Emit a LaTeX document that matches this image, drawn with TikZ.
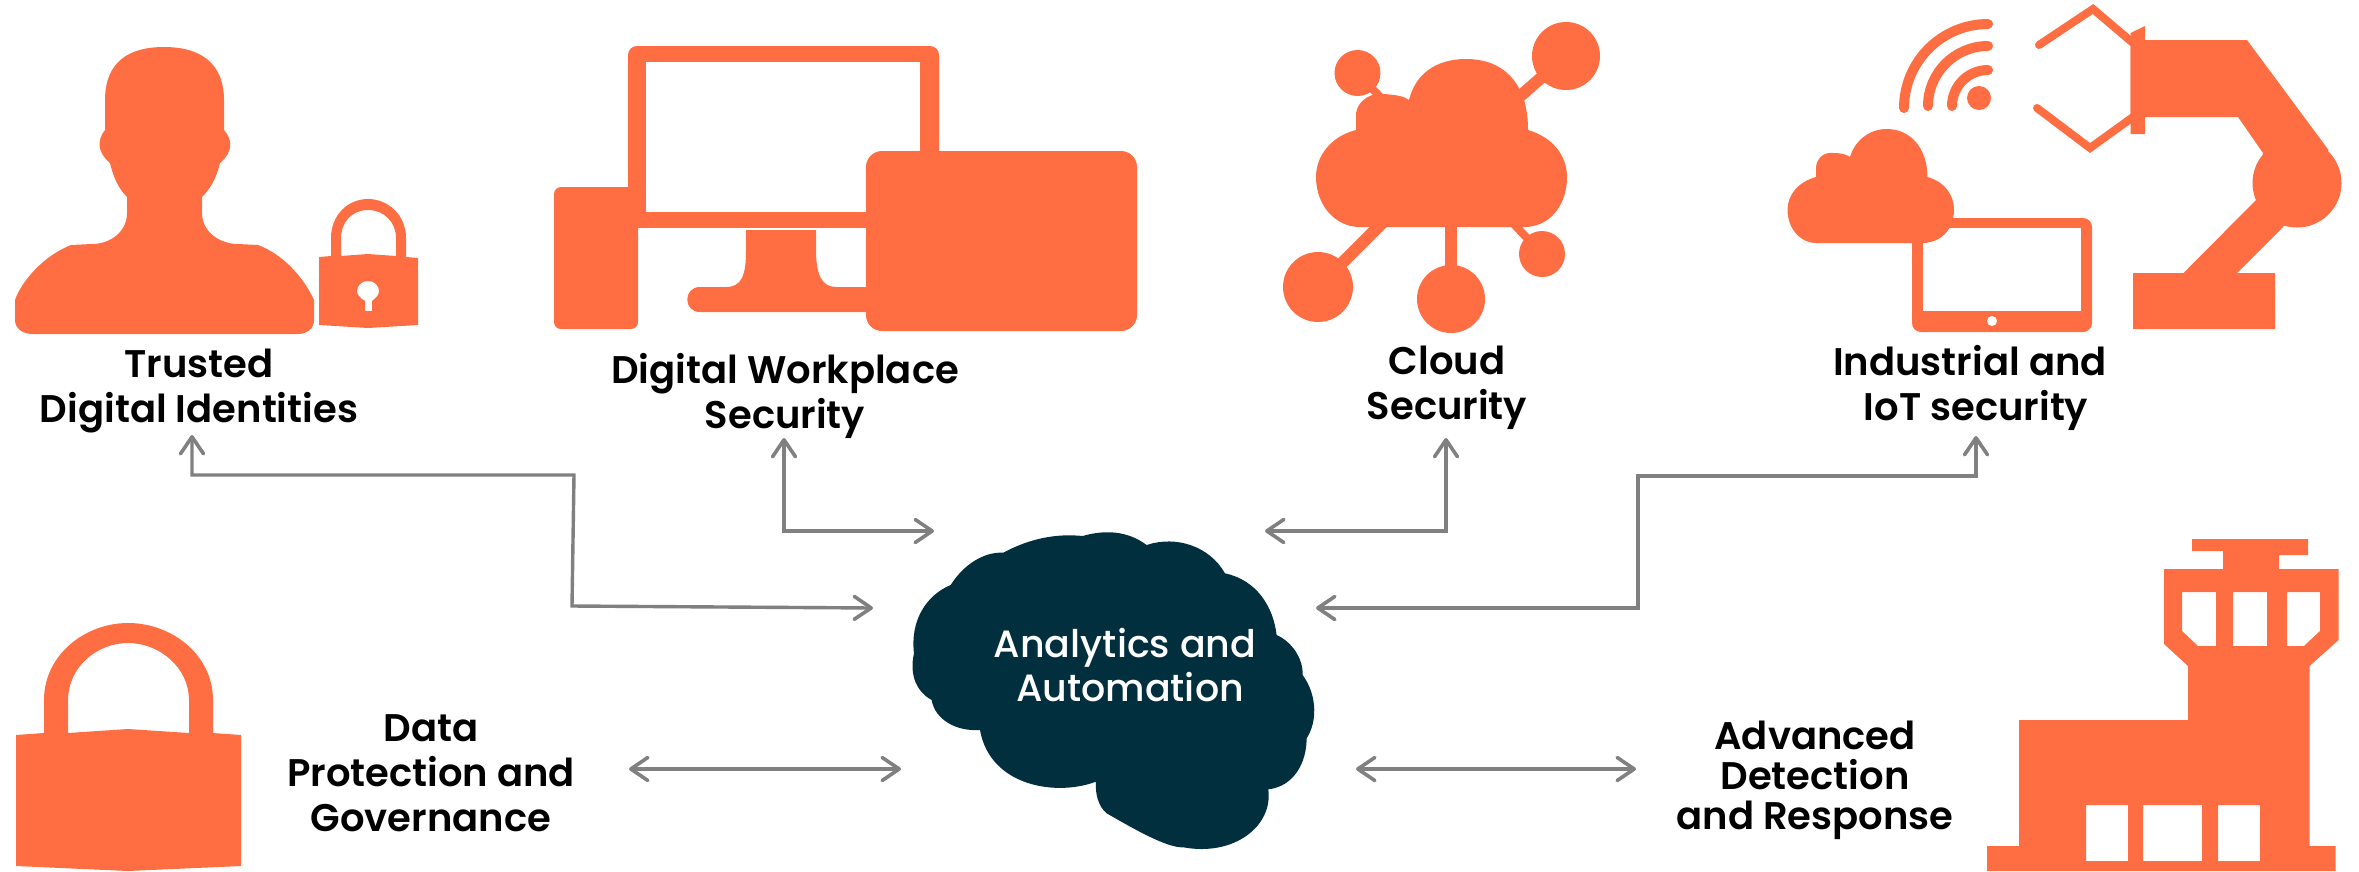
\documentclass[tikz,border=0pt]{standalone}
\usepackage{fontspec}
\setmainfont{Poppins}
\newfontfamily\lblfont{Poppins SemiBold}
\newfontfamily\cloudfont{Poppins Medium}
\usetikzlibrary{arrows.meta}
\definecolor{icon}{HTML}{FF6D43}
\definecolor{brain}{HTML}{022F3E}
\definecolor{link}{HTML}{808080}
\tikzset{
  ico/.style={fill=icon,draw=none,even odd rule},
  spoke/.style={draw=icon,line cap=butt},
  wave/.style={draw=icon,line width=10pt,line cap=round},
  claw/.style={draw=icon,line width=8pt,line cap=round,line join=miter},
  lbl/.style={align=center,text=black,font=\lblfont\fontsize{38.5}{45}\selectfont,inner sep=0pt},
  conn/.style={draw=link,line width=3.4pt,{Straight Barb[length=17pt,width=23pt,line width=3.6pt,round]}-{Straight Barb[length=17pt,width=23pt,line width=3.6pt,round]}},
}
\begin{document}
\begin{tikzpicture}[x=1pt,y=-1pt]
\useasboundingbox (0,0) rectangle (2359,871);
% person
\path[ico] (164,47) .. controls (120,47) and (105,70) .. (105,100) -- (105,130)
 .. controls (97,140) and (97,152) .. (110,163)
 .. controls (114,180) and (120,190) .. (127,197) -- (127,213)
 .. controls (127,232) and (110,244) .. (92,244) -- (71,245)
 .. controls (45,255) and (22,280) .. (15,300) -- (15,320)
 .. controls (15,328) and (22,334) .. (33,334) -- (297,334)
 .. controls (308,334) and (314,328) .. (314,320) -- (314,300)
 .. controls (305,280) and (285,255) .. (258,245) -- (238,244)
 .. controls (220,244) and (202,232) .. (202,213) -- (202,197)
 .. controls (209,190) and (216,180) .. (220,163)
 .. controls (233,152) and (233,140) .. (224,130) -- (224,100)
 .. controls (224,70) and (208,47) .. (164,47) -- cycle;
% small lock
\path[ico] (319,257) -- (331,256) -- (331,238) .. controls (331,215) and (348,199) .. (368,199)
 .. controls (388,199) and (406,215) .. (406,238) -- (406,257) -- (418,258) -- (418,325) -- (368,328) -- (319,325) -- cycle
 (341,256) -- (368,254) -- (396,256) -- (396,238) .. controls (396,222) and (384,210) .. (368,210)
 .. controls (352,210) and (341,222) .. (341,238) -- cycle
 (368,281) .. controls (361,281) and (357,286) .. (357,291) .. controls (357,295) and (360,298) .. (365,301)
 -- (365,311) -- (372,311) -- (372,301) .. controls (376,298) and (379,295) .. (379,291)
 .. controls (379,286) and (375,281) .. (368,281) -- cycle;
% devices
\path[ico,rounded corners=9pt] (628,228) -- (628,46) -- (939,46) -- (939,228) -- cycle;
\path[fill=white] (646,62) rectangle (920,212);
\path[fill=white] (638,228) rectangle (870,232);
\path[ico,rounded corners=7pt] (554,187) rectangle (638,329);
\path[ico] (746,230) -- (816,230) -- (816,250) .. controls (816,275) and (822,287) .. (836,287) -- (870,287) -- (870,312) -- (700,312)
 .. controls (683,312) and (683,287) .. (700,287) -- (726,287) .. controls (742,287) and (746,275) .. (746,250) -- cycle;
\path[ico,rounded corners=16pt] (866,151) rectangle (1137,331);
% cloud network
\path[ico] (1356,130) -- (1356,113) .. controls (1358,100) and (1372,92) .. (1384,94)
 .. controls (1396,95) and (1404,96) .. (1409,100)
 .. controls (1415,75) and (1435,59) .. (1466,59)
 .. controls (1497,59) and (1516,75) .. (1524,100)
 .. controls (1527,110) and (1528,120) .. (1528,130)
 .. controls (1552,137) and (1567,155) .. (1567,177)
 .. controls (1567,205) and (1550,227) .. (1524,227) -- (1360,227)
 .. controls (1335,227) and (1316,205) .. (1316,177)
 .. controls (1316,155) and (1332,136) .. (1356,130) -- cycle;
\fill[icon] (1357.5,73) circle (23);
\fill[icon] (1566,56) circle (34);
\fill[icon] (1318,287) circle (35);
\fill[icon] (1451,299) circle (34);
\fill[icon] (1542,254) circle (23);
\draw[spoke,line width=8pt] (1357,73) -- (1388,105);
\draw[spoke,line width=12pt] (1566,56) -- (1510,105);
\draw[spoke,line width=12pt] (1318,287) -- (1390,215);
\draw[spoke,line width=12pt] (1451,299) -- (1451,220);
\draw[spoke,line width=8pt] (1542,254) -- (1510,220);
% tablet + cloud
\path[ico,rounded corners=9pt] (1912,218) rectangle (2092,332);
\path[fill=white] (1922.6,228) rectangle (2081,311);
\fill[white] (1992,321) circle (5);
\path[ico] (1816,177) -- (1816,167) .. controls (1817,157) and (1825,152) .. (1833,153)
 .. controls (1840,153) and (1846,154) .. (1850,157)
 .. controls (1855,140) and (1870,129) .. (1886.5,129)
 .. controls (1910,129) and (1927,147) .. (1927.5,177)
 .. controls (1945,182) and (1954,195) .. (1954,210)
 .. controls (1954,228) and (1942,243) .. (1922,243) -- (1816,243)
 .. controls (1800,243) and (1787.5,228) .. (1787.5,210)
 .. controls (1787.5,195) and (1798,182) .. (1816,177) -- cycle;
% wifi
\fill[icon] (1979,98) circle (12);
\draw[wave] (1952,106) arc[start angle=180,end angle=270,radius=36];
\draw[wave] (1928,106) arc[start angle=180,end angle=270,radius=60];
\draw[wave] (1904,108) arc[start angle=180,end angle=270,radius=84];
% robot arm
\draw[claw] (2039,45) -- (2093,9) -- (2133,43);
\draw[claw] (2037,108) -- (2090,148) -- (2133,117);
\path[ico] (2130.5,33) -- (2145,26) -- (2145,134) -- (2130.5,134) -- cycle;
\path[ico] (2130.5,40) -- (2247,40) -- (2328.5,150) -- (2297,200) -- (2283,227)
 -- (2237,273) -- (2275,273) -- (2275,329) -- (2133,329) -- (2133,273) -- (2183.5,273)
 -- (2256,200) -- (2263,153) -- (2238,117) -- (2130.5,117) -- cycle;
\fill[icon] (2297,183) circle (44.5);
% big lock
\path[ico] (16,735) -- (44,733) -- (44,700) .. controls (44,655) and (85,623) .. (128,623)
 .. controls (172,623) and (213,655) .. (213,700) -- (213,733) -- (241,735) -- (241,866) -- (128,871) -- (16,866) -- cycle
 (68,733) -- (128,729) -- (189,733) -- (189,700) .. controls (189,668) and (160,643) .. (128,643)
 .. controls (96,643) and (68,668) .. (68,700) -- cycle;
% tower
\path[ico] (2192,539) -- (2308,539) -- (2308,555) -- (2279,555) -- (2279,569) -- (2338.5,569) -- (2338.5,640)
 -- (2309.5,666) -- (2309.5,846) -- (2335.6,846) -- (2335.6,871) -- (1987,871) -- (1987,846) -- (2019,846)
 -- (2019,720) -- (2188,720) -- (2188,666) -- (2164,644) -- (2164,569) -- (2223,569) -- (2223,551) -- (2192,551) -- cycle
 (2182,592) -- (2216,592) -- (2216,646) -- (2198,646) -- (2182,631) -- cycle
 (2233,592) -- (2267,592) -- (2267,646) -- (2233,646) -- cycle
 (2287,592) -- (2320,592) -- (2320,631) -- (2304,646) -- (2287,646) -- cycle
 (2086,805) rectangle (2128,861)
 (2143,805) rectangle (2202,861)
 (2218,805) rectangle (2260,861);
% brain cloud
\begin{scope}[shift={(890,510)},x=0.3333pt,y=-0.3333pt]
\path[fill=brain] (340,128) .. controls (420,85) and (500,70) .. (578,78)
 .. controls (640,60) and (710,60) .. (770,105)
 .. controls (860,75) and (960,110) .. (1005,190)
 .. controls (1100,210) and (1150,290) .. (1160,375)
 .. controls (1205,395) and (1240,445) .. (1238,495)
 .. controls (1285,560) and (1280,640) .. (1250,685)
 .. controls (1250,760) and (1210,830) .. (1135,838)
 .. controls (1150,950) and (1030,1040) .. (880,1012)
 .. controls (830,1015) and (720,950) .. (650,910)
 .. controls (625,890) and (615,850) .. (618,815)
 .. controls (500,860) and (300,830) .. (270,660)
 .. controls (200,665) and (135,630) .. (125,570)
 .. controls (70,540) and (60,480) .. (72,430)
 .. controls (60,330) and (110,255) .. (182,225)
 .. controls (220,165) and (280,125) .. (340,128) -- cycle;
\end{scope}
% labels
\node[lbl] (ident) at (199,391) {Trusted\\Digital Identities};
\node[lbl] (work) at (785,395.5) {Digital Workplace\\Security};
\node[lbl] (cloudsec) at (1447,388) {Cloud\\Security};
\node[lbl] (iot) at (1970,388) {Industrial and\\\hspace*{12pt}IoT security};
\node[lbl,font=\lblfont\fontsize{38.5}{45}\selectfont] (data) at (431,773) {Data\\Protection and\\Governance};
\node[lbl,font=\lblfont\fontsize{38.5}{40}\selectfont] (adv) at (1815,780) {Advanced\\Detection\\and Response};
\node[lbl,text=white,font=\cloudfont\fontsize{38}{44}\selectfont] (ana) at (1125,665) {Analytics and\\\hspace*{10pt}Automation};
% connector ends
\coordinate (a1) at (192,435);
\coordinate (a2) at (873,608);
\coordinate (b1) at (784,438);
\coordinate (b2) at (934,531);
\coordinate (c1) at (1265,531);
\coordinate (c2) at (1446,438);
\coordinate (d1) at (1316,608);
\coordinate (d2) at (1976,436);
\coordinate (e1) at (629,769);
\coordinate (e2) at (901,769);
\coordinate (f1) at (1356,769);
\coordinate (f2) at (1636,769);
\draw[conn] (a1) -- (192,475) -- (574,475) -- (572,606) -- (a2);
\draw[conn] (b1) |- (b2);
\draw[conn] (c1) -| (c2);
\draw[conn] (d1) -- (1638,608) -- (1638,476) -- (1976,476) -- (d2);
\draw[conn] (e1) -- (e2);
\draw[conn] (f1) -- (f2);
\end{tikzpicture}
\end{document}
